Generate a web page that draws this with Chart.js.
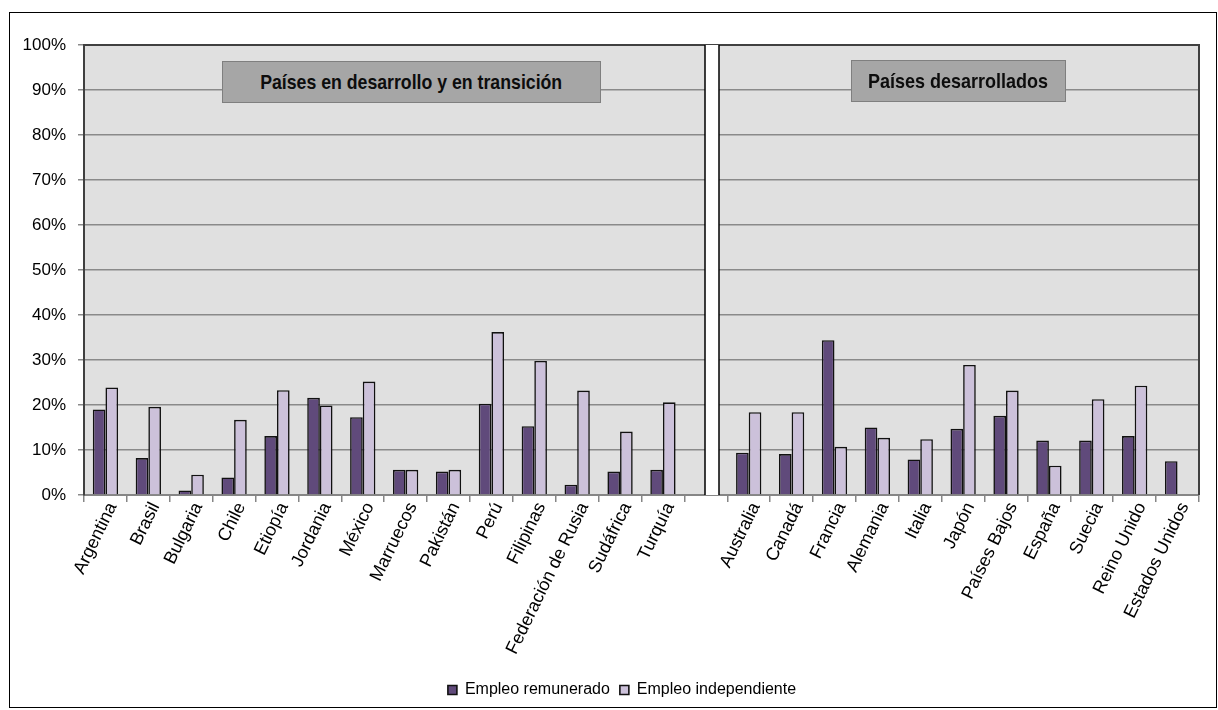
<!DOCTYPE html>
<html lang="es">
<head>
<meta charset="utf-8">
<title>Empleo remunerado e independiente</title>
<script src="https://cdn.jsdelivr.net/npm/chart.js@4"></script>
<style>
  html, body { margin: 0; padding: 0; background: #fff; }
  #wrap { position: relative; width: 1218px; height: 710px; }
  #frame { position: absolute; left: 9px; top: 12px; width: 1206px; height: 694px; border: 1px solid #000; pointer-events: none; }
  canvas { position: absolute; left: 0; top: 0; }
  .grp {
    position: absolute; box-sizing: border-box; background: #a6a6a6;
    border: 1.5px solid #7f7f7f; display: flex; align-items: center; justify-content: center;
    font-family: 'Liberation Sans', Arial, sans-serif; font-weight: bold; font-size: 21px; color: #0d0d0d;
    white-space: nowrap; overflow: visible;
  }
  .grp span { display: inline-block; transform-origin: center center; }
</style>
</head>
<body>
<div id="wrap">
  <canvas id="c" width="1218" height="710"></canvas>
  <div id="frame"></div>
  <div class="grp" id="g1" style="left:222px;top:61px;width:379px;height:42px;"><span data-w="302">Países en desarrollo y en transición</span></div>
  <div class="grp" id="g2" style="left:851px;top:60px;width:215px;height:42px;"><span data-w="180">Países desarrollados</span></div>
</div>
<script>
// Countries: developing / transition group, an empty slot, then developed group
const categories = [
  'Argentina', 'Brasil', 'Bulgaria', 'Chile', 'Etiopía', 'Jordania', 'México',
  'Marruecos', 'Pakistán', 'Perú', 'Filipinas', 'Federación de Rusia', 'Sudáfrica', 'Turquía',
  '',
  'Australia', 'Canadá', 'Francia', 'Alemania', 'Italia', 'Japón', 'Países Bajos',
  'España', 'Suecia', 'Reino Unido', 'Estados Unidos'
];

// Share of employment (%)
const empleoRemunerado = [
  19.0, 8.2, 1.0, 3.9, 13.1, 21.6, 17.3,
  5.6, 5.2, 20.3, 15.3, 2.3, 5.2, 5.6,
  null,
  9.4, 9.1, 34.4, 15.0, 7.9, 14.7, 17.6,
  12.1, 12.1, 13.1, 7.5
];
const empleoIndependiente = [
  23.9, 19.6, 4.5, 16.7, 23.3, 19.9, 25.2,
  5.6, 5.6, 36.2, 29.8, 23.2, 14.1, 20.6,
  null,
  18.4, 18.4, 10.7, 12.7, 12.4, 28.9, 23.2,
  6.5, 21.3, 24.3, null
];

const yTicks = [0, 10, 20, 30, 40, 50, 60, 70, 80, 90, 100];
const separatorIndex = 14;

// Plot background, frame and the white divider between the two country groups
const plotDecor = {
  id: 'plotDecor',
  afterUpdate(chart) {
    // nudge the legend a little to the right of the canvas centre
    const lg = chart.legend;
    if (lg) { lg.left += 18; lg.right += 18; }
  },
  beforeDraw(chart) {
    const { ctx, chartArea: a } = chart;
    ctx.save();
    ctx.fillStyle = '#e0e0e0';
    ctx.fillRect(a.left, a.top, a.right - a.left, a.bottom - a.top);
    ctx.restore();
  },
  beforeDatasetsDraw(chart) {
    const { ctx, chartArea: a, scales } = chart;
    ctx.save();
    ctx.strokeStyle = '#404040';
    ctx.lineWidth = 2;
    ctx.beginPath();
    ctx.moveTo(a.left, a.top);
    ctx.lineTo(a.right, a.top);
    ctx.lineTo(a.right, a.bottom);
    ctx.stroke();
    // divider strip
    const cx = scales.x.getPixelForValue(separatorIndex);
    const x0 = Math.round(cx) - 1, w = 14;
    ctx.fillStyle = '#ffffff';
    ctx.fillRect(x0, a.top, w, a.bottom - a.top);
    ctx.strokeStyle = '#000';
    ctx.lineWidth = 1.5;
    ctx.beginPath();
    ctx.moveTo(x0, a.top); ctx.lineTo(x0, a.bottom);
    ctx.moveTo(x0 + w, a.top); ctx.lineTo(x0 + w, a.bottom);
    ctx.stroke();
    ctx.restore();
  }
};

const fontFamily = "'Liberation Sans', Arial, sans-serif";

new Chart(document.getElementById('c'), {
  type: 'bar',
  data: {
    labels: categories,
    datasets: [
      {
        label: 'Empleo remunerado',
        data: empleoRemunerado,
        backgroundColor: '#604a7b',
        borderColor: '#111',
        borderWidth: 1.6
      },
      {
        label: 'Empleo independiente',
        data: empleoIndependiente,
        backgroundColor: '#ccc1da',
        borderColor: '#111',
        borderWidth: 1.6
      }
    ]
  },
  options: {
    responsive: false,
    animation: false,
    devicePixelRatio: 1,
    layout: { padding: { left: 9, top: 45, right: 19, bottom: 2 } },
    datasets: { bar: { categoryPercentage: 0.59, barPercentage: 1.0 } },
    scales: {
      x: {
        offset: true,
        grid: { drawOnChartArea: false, offset: true, color: '#868686', lineWidth: 1.5, tickLength: 7, tickColor: '#868686' },
        border: { color: '#868686', width: 2 },
        ticks: { color: '#000', font: { family: fontFamily, size: 18 }, minRotation: 64, maxRotation: 64, autoSkip: false, padding: -3, labelOffset: 7 },
        afterFit(scale) { scale.height = 177; }
      },
      y: {
        min: 0,
        max: 100,
        afterBuildTicks(scale) { scale.ticks = yTicks.map(v => ({ value: v })); },
        grid: { color: '#8a8a8a', lineWidth: 1.5, tickLength: 6, tickColor: '#8a8a8a' },
        border: { color: '#404040', width: 2 },
        ticks: { color: '#000', font: { family: fontFamily, size: 17 }, padding: 12, callback: v => v + '%' },
        afterFit(scale) { scale.width = 75; }
      }
    },
    plugins: {
      legend: {
        position: 'bottom',
        labels: {
          boxWidth: 9,
          boxHeight: 9,
          color: '#000',
          padding: 10,
          font: { family: fontFamily, size: 16 }
        }
      },
      tooltip: { enabled: false }
    }
  },
  plugins: [plotDecor]
});

// Fit the group captions to their boxes with a slight horizontal condensing
document.querySelectorAll('.grp span').forEach(s => {
  const target = parseFloat(s.dataset.w);
  const w = s.getBoundingClientRect().width;
  if (w > 0) s.style.transform = 'scaleX(' + (target / w).toFixed(3) + ')';
});
</script>
</body>
</html>
